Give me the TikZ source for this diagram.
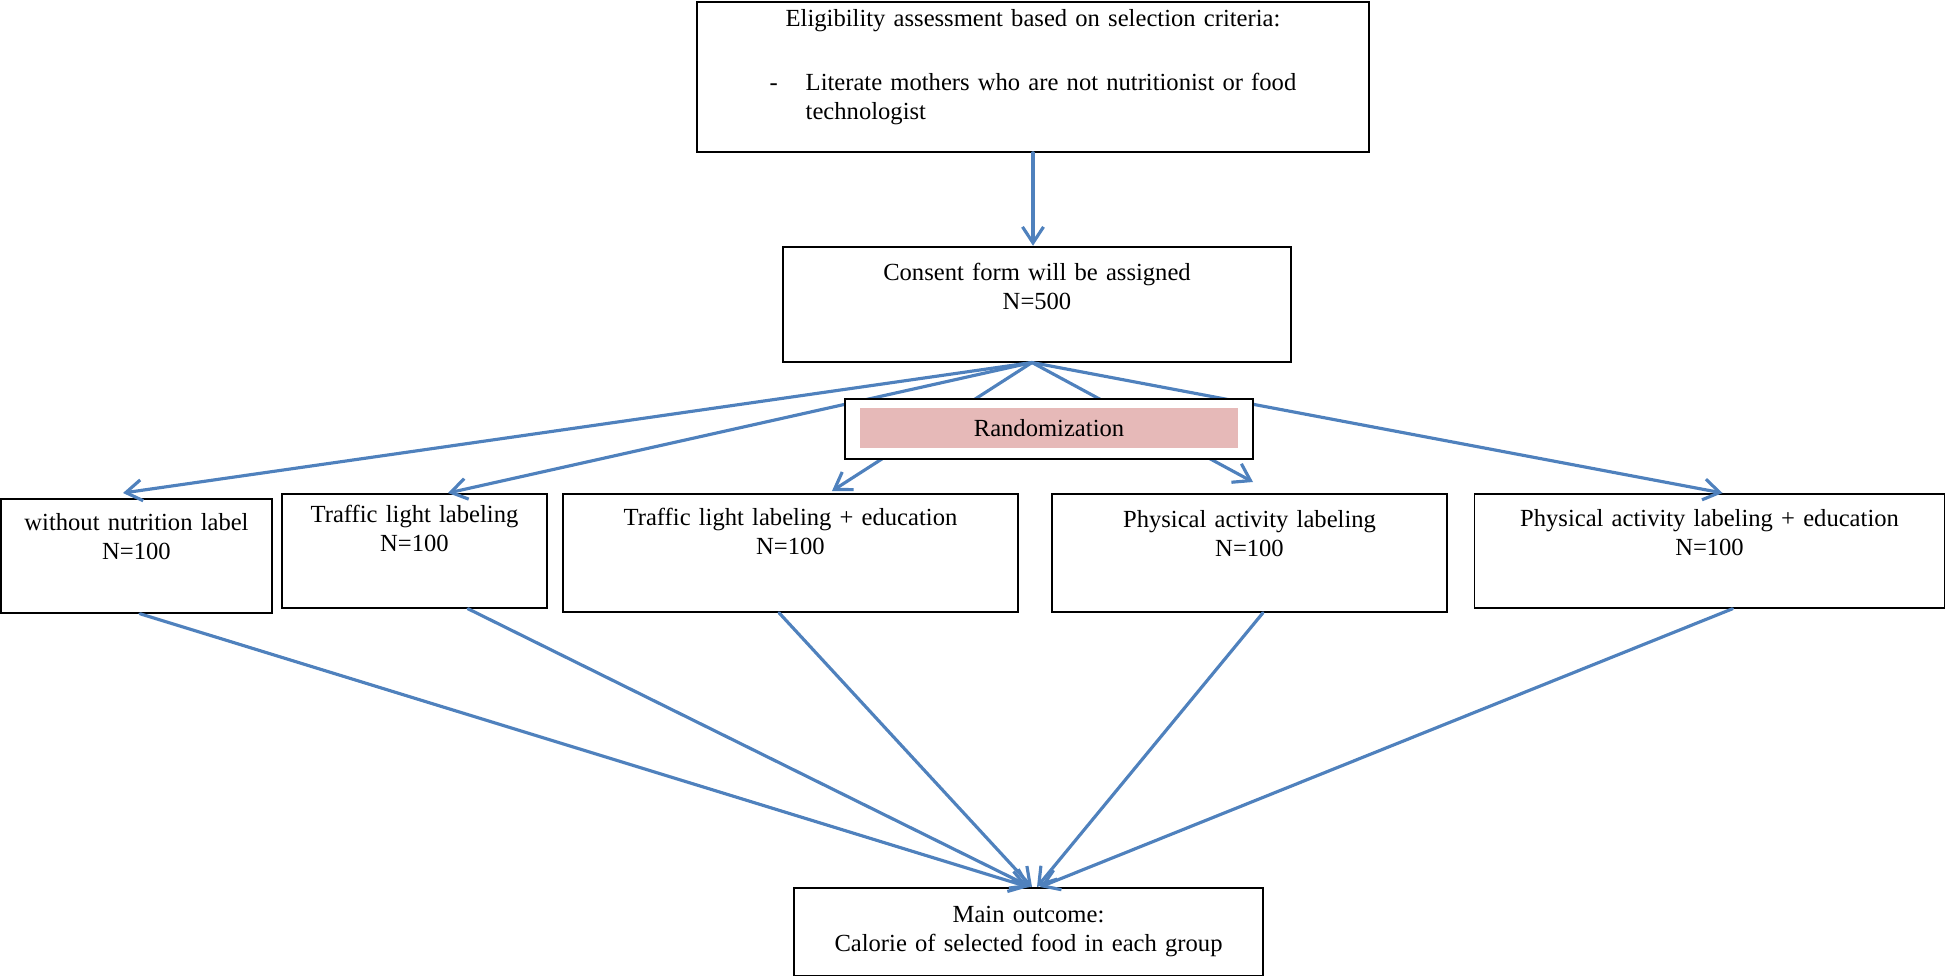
\documentclass[tikz,border=0pt]{standalone}
\usepackage{fontspec}
\setmainfont{Liberation Serif}
\usepackage{tikz}
\usetikzlibrary{positioning, arrows.meta}

\definecolor{flowblue}{HTML}{4F81BD}
\definecolor{randpink}{HTML}{E6B9B8}

\begin{document}
\begin{tikzpicture}[
    stagebox/.style={rectangle, draw, line width=1pt, fill=white, align=center, anchor=north, inner xsep=0pt, inner ysep=0pt, font=\fontsize{14}{16.5}\selectfont},
    randframe/.style={rectangle, draw, line width=1pt, fill=white, minimum width=8.16cm, minimum height=1.20cm},
    randfill/.style={rectangle, fill=randpink, minimum width=7.56cm, minimum height=0.80cm, inner sep=0pt, font=\fontsize{14}{16.5}\selectfont},
    flow/.style={draw=flowblue, line width=1.8pt, line cap=round, -{Straight Barb[length=0.32cm, width=0.42cm]}}
]
\useasboundingbox (0,0) rectangle (38.92,-19.52);

% Eligibility and consent
\node[stagebox, text width=13.44cm, text height=0.49cm, text depth=2.51cm] (elig) at (20.66,-0.02) {Eligibility assessment based on selection criteria:\\[0.70cm]
    \begin{tabular}[t]{@{}p{0.72cm}@{}l@{}}
    - & Literate mothers who are not nutritionist or food\\
      & technologist
    \end{tabular}};
\node[stagebox, text width=10.16cm, text height=0.68cm, text depth=1.62cm, below=1.86cm of elig, xshift=0.08cm] (consent) {Consent form will be assigned\\N=500};

% Study groups
\node[stagebox, text width=5.42cm, text height=0.64cm, text depth=1.64cm] (g1) at (2.73,-9.96) {without nutrition label\\N=100};
\node[stagebox, text width=5.30cm, text height=0.58cm, text depth=1.70cm] (g2) at (8.29,-9.86) {Traffic light labeling\\N=100};
\node[stagebox, text width=9.10cm, text height=0.64cm, text depth=1.72cm] (g3) at (15.81,-9.86) {Traffic light labeling + education\\N=100};
\node[stagebox, text width=7.90cm, text height=0.68cm, text depth=1.68cm] (g4) at (24.99,-9.86) {Physical activity labeling\\N=100};
\node[stagebox, text width=9.40cm, text height=0.66cm, text depth=1.62cm] (g5) at (34.19,-9.86) {Physical activity labeling + education\\N=100};

% Outcome
\node[stagebox, text width=9.38cm, text height=0.70cm, text depth=1.06cm] (outcome) at (20.57,-17.74) {Main outcome:\\Calorie of selected food in each group};

% Arrows
\draw[flow] (elig.south) -- (elig.south |- consent.north);
\draw[flow] ([xshift=-0.1cm]consent.south) -- ([xshift=-0.27cm, yshift=0.1cm]g1.north);
\draw[flow] ([xshift=-0.1cm]consent.south) -- ([xshift=0.67cm]g2.north);
\draw[flow] ([xshift=-0.1cm]consent.south) -- ([xshift=0.83cm, yshift=0.04cm]g3.north);
\draw[flow] ([xshift=-0.1cm]consent.south) -- ([xshift=0.07cm, yshift=0.22cm]g4.north);
\draw[flow] ([xshift=-0.1cm]consent.south) -- ([xshift=0.26cm]g5.north);

\draw[flow] ([xshift=0.07cm]g1.south) -- ([xshift=0.00cm]outcome.north);
\draw[flow] ([xshift=1.07cm]g2.south) -- ([xshift=0.04cm]outcome.north);
\draw[flow] ([xshift=-0.23cm]g3.south) -- ([xshift=0.07cm]outcome.north);
\draw[flow] ([xshift=0.27cm]g4.south) -- ([xshift=0.17cm]outcome.north);
\draw[flow] ([xshift=0.46cm]g5.south) -- ([xshift=0.23cm]outcome.north);

% Randomization sits over the arrows
\node[randframe, below=0.71cm of consent, xshift=0.24cm] (rand) {};
\node[randfill, yshift=0.02cm] (randlabel) at (rand) {Randomization};

\end{tikzpicture}
\end{document}
